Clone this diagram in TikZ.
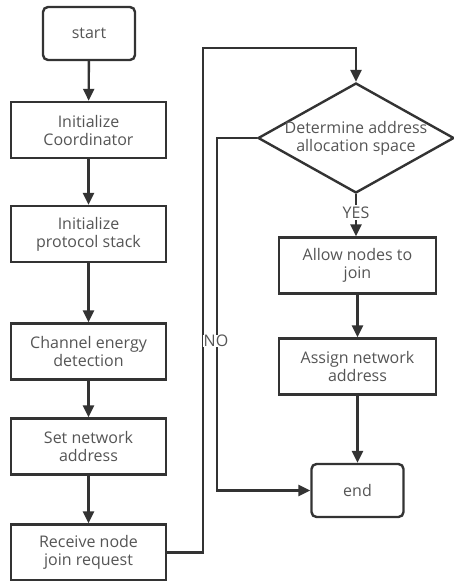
\documentclass[tikz,border=0pt]{standalone}
\usepackage{fontspec}
\setmainfont{Open Sans}
\usetikzlibrary{shapes.geometric,arrows.meta}
\definecolor{ln}{HTML}{333333}
\definecolor{tx}{HTML}{555555}
\tikzset{
  every node/.style={font=\fontsize{16}{18}\selectfont, text=tx},
  proc/.style={draw=ln, line width=2.4pt, minimum width=155pt, minimum height=56pt, align=center, inner sep=0pt, fill=white},
  term/.style={draw=ln, line width=2.4pt, rounded corners=5pt, minimum width=92pt, minimum height=53pt, align=center, inner sep=0pt},
  decis/.style={draw=ln, line width=2.4pt, diamond, minimum width=196pt, minimum height=110pt, inner sep=0pt},
  conn/.style={draw=ln, line width=2.4pt, -{Triangle[width=11pt,length=12pt]}},
  lbl/.style={fill=white, inner sep=1.5pt}
}
\begin{document}
\begin{tikzpicture}[x=1pt,y=-1pt]
\useasboundingbox (0,0) rectangle (453,581);
\node[term] (start) at (89,33.5) {start};
\node[proc] (init) at (88.5,130) {Initialize\\Coordinator};
\node[proc] (proto) at (88.5,234) {Initialize\\protocol stack};
\node[proc] (chan) at (88.5,351.5) {Channel energy\\detection};
\node[proc] (setn) at (88.5,446.5) {Set network\\address};
\node[proc] (recv) at (88.5,552.5) {Receive node\\join request};
\node[decis, label={[align=center]center:Determine address\\allocation space}] (dec) at (356,138) {};
\node[proc, minimum width=157pt] (allow) at (357.5,265.5) {Allow nodes to\\join};
\node[proc, minimum width=157pt] (assign) at (357.5,366.5) {Assign network\\address};
\node[term] (endn) at (357.5,490.5) {end};
\coordinate (c1) at (203,552.5);
\coordinate (c2) at (203,48);
\coordinate (c3) at (356,48);
\coordinate (n1) at (217,138);
\coordinate (n2) at (217,490.5);
\draw[conn] (start) -- (init);
\draw[conn] (init) -- (proto);
\draw[conn] (proto) -- (chan);
\draw[conn] (chan) -- (setn);
\draw[conn] (setn) -- (recv);
\draw[conn] (recv.east) -- (c1) -- (c2) -- (c3) -- (dec.north);
\draw[conn] (dec.south) -- (dec.south |- allow.north) node[lbl, pos=0.43] {YES};
\draw[conn] (allow) -- (assign);
\draw[conn] (assign) -- (endn);
\draw[conn] (dec.west) -- (n1) -- (n2) -- (endn.west);
\node[lbl, inner sep=0.5pt] (no) at (216,341) {NO};
\end{tikzpicture}
\end{document}
